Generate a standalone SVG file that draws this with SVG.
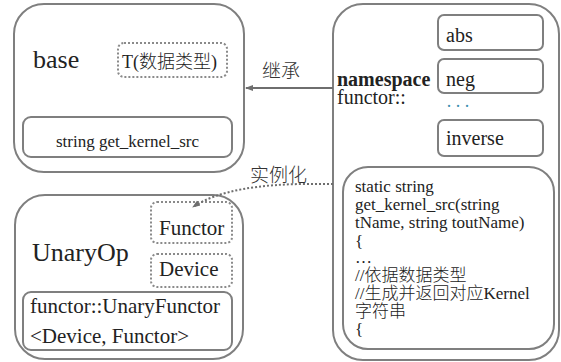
<svg xmlns="http://www.w3.org/2000/svg" width="561" height="362" viewBox="0 0 561 362">
<defs>
<style>
.box{fill:#fff;stroke:#7f7f7f;stroke-width:2}
.dot{fill:#fff;stroke:#8a8a8a;stroke-width:2;stroke-dasharray:2 2}
.conn{fill:none;stroke:#6e6e6e;stroke-width:2}
.t{font-family:'Liberation Serif','Noto Sans CJK SC',serif;fill:#222}
.c{font-weight:300}
.lbl{font-family:'Noto Sans CJK SC',sans-serif;font-weight:300;fill:#333;font-size:19px}
</style>
<marker id="ah" markerWidth="8" markerHeight="8" refX="7" refY="4" orient="auto" markerUnits="userSpaceOnUse">
<path d="M0,1 L8,4 L0,7 Z" fill="#6e6e6e"/>
</marker>
</defs>
<rect width="561" height="362" fill="#fff"/>
<g id="base">
<rect class="box" x="14" y="4" width="230" height="168" rx="30"/>
<text class="t" x="33" y="68" font-size="26">base</text>
<rect class="dot" x="118" y="43" width="109" height="34" rx="6"/>
<text class="t c" x="122" y="68" font-size="18">T(数据类型)</text>
<rect class="box" x="23" y="117" width="209" height="40" rx="8"/>
<text class="t" x="127.5" y="147" font-size="17" text-anchor="middle">string get_kernel_src</text>
</g>
<g id="namespace">
<rect class="box" x="333" y="4" width="226" height="356" rx="30"/>
<text class="t" x="337" y="86" font-size="20" font-weight="bold">namespace</text>
<text class="t" x="337" y="104" font-size="20">functor::</text>
<text class="t" x="446" y="112" font-size="18" fill="#3a8fb0" style="fill:#3a8fb0" letter-spacing="3">···</text>
</g>
<g id="abs">
<rect class="box" x="438" y="15" width="105" height="35" rx="6"/>
<text class="t" x="446" y="42" font-size="20">abs</text>
</g>
<g id="neg">
<rect class="box" x="438" y="59" width="105" height="34" rx="6"/>
<text class="t" x="446" y="86" font-size="20">neg</text>
</g>
<g id="inverse">
<rect class="box" x="438" y="120" width="105" height="36" rx="6"/>
<text class="t" x="446" y="145" font-size="20">inverse</text>
</g>
<g id="code">
<rect class="box" x="343" y="167" width="211" height="182" rx="25"/>
<text class="t" x="355" y="192" font-size="17">static string</text>
<text class="t" x="355" y="210" font-size="17">get_kernel_src(string</text>
<text class="t" x="355" y="228" font-size="17">tName, string toutName)</text>
<text class="t" x="355" y="247" font-size="17">{</text>
<text class="t" x="355" y="263" font-size="17">…</text>
<text class="t c" x="355" y="281" font-size="17">//依据数据类型</text>
<text class="t c" x="355" y="299" font-size="17">//生成并返回对应Kernel</text>
<text class="t c" x="355" y="317" font-size="17">字符串</text>
<text class="t" x="355" y="335" font-size="17">{</text>
</g>
<g id="unaryop">
<rect class="box" x="15" y="195" width="228" height="164" rx="30"/>
<text class="t" x="32" y="261" font-size="26">UnaryOp</text>
<rect class="dot" x="151" y="202" width="81" height="41" rx="6"/>
<text class="t" x="159" y="235" font-size="21">Functor</text>
<rect class="dot" x="151" y="254" width="81" height="33" rx="6"/>
<text class="t" x="159" y="276" font-size="21">Device</text>
<rect class="box" x="23" y="292" width="209" height="58" rx="8"/>
<text class="t" x="30" y="313" font-size="21">functor::UnaryFunctor</text>
<text class="t" x="30" y="343" font-size="21">&lt;Device, Functor&gt;</text>
</g>
<g id="connectors">
<line class="conn" x1="333" y1="88" x2="246" y2="88" marker-end="url(#ah)"/>
<text class="lbl" x="262" y="78">继承</text>
<path class="conn" d="M333,184 L308,184 C262,184 218,190 193,207" stroke-dasharray="2 2" marker-end="url(#ah)"/>
<text class="lbl" x="250" y="182">实例化</text>
</g>
</svg>
